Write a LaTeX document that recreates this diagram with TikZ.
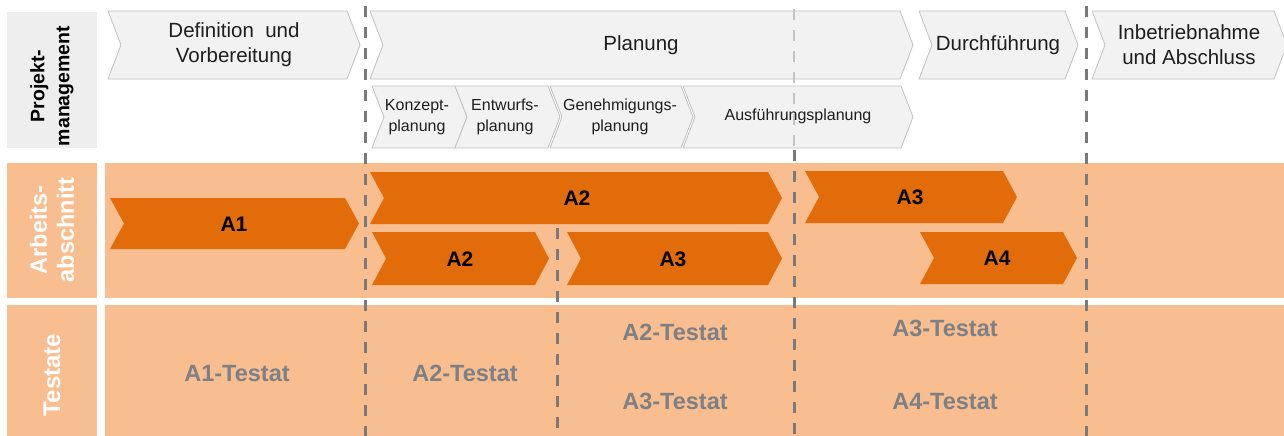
\documentclass[tikz,border=0pt]{standalone}
\usepackage{fontspec}
\setmainfont{Liberation Sans}
\definecolor{lorange}{RGB}{249,190,143}
\definecolor{dorange}{RGB}{227,108,10}
\definecolor{chevfill}{RGB}{242,242,242}
\definecolor{chevline}{RGB}{192,192,192}
\definecolor{dashgray}{RGB}{120,122,126}
\definecolor{lightdash}{RGB}{195,195,195}
\definecolor{tgray}{RGB}{125,128,133}
\definecolor{labelgray}{RGB}{238,238,238}
\definecolor{txtdark}{RGB}{30,30,30}
\newcommand{\mychev}[6]{%
  \path[#6] (#1,#3) -- (#2-#5,#3) -- (#2,{(#3+#4)/2}) -- (#2-#5,#4) -- (#1,#4) -- (#1+#5,{(#3+#4)/2}) -- cycle;}
\tikzset{
  greychev/.style={fill=chevfill, draw=chevline, line width=0.8pt},
  orangechev/.style={fill=dorange},
  toptext/.style={inner sep=0pt, align=center, text=txtdark, font=\fontsize{20.5}{25}\selectfont},
  subtext/.style={inner sep=0pt, align=center, text=txtdark, font=\fontsize{16}{21}\selectfont},
  atext/.style={inner sep=0pt, text=black, font=\fontsize{21}{25}\selectfont\bfseries},
  ttext/.style={inner sep=0pt, text=tgray, font=\fontsize{23.5}{27}\selectfont\bfseries},
  rowlabel/.style={inner sep=0pt, align=center, rotate=90},
  phaseline/.style={draw=dashgray, line width=3pt, dash pattern=on 11pt off 10pt},
  lightline/.style={draw=lightdash, line width=2.6pt, dash pattern=on 11pt off 10pt},
}
\begin{document}
\begin{tikzpicture}[x=1pt,y=-1pt]
\fill[white] (0,0) rectangle (1284,436);
\useasboundingbox (0,0) rectangle (1284,436);
\clip (0,0) rectangle (1284,436);
% row label boxes
\fill[labelgray] (7,12) rectangle (97,148);
\fill[lorange] (7,163) rectangle (97,298);
\fill[lorange] (7,305) rectangle (97,436);
% bands
\fill[lorange] (105,163) rectangle (1284,298);
\fill[lorange] (105,305) rectangle (1284,436);
% row labels
\node[rowlabel, text=black, font=\fontsize{19.5}{25}\selectfont\bfseries] (lpm) at (52,86) {Projekt-\\management};
\node[rowlabel, text=white, font=\fontsize{23.5}{27}\selectfont\bfseries] (lab) at (52,230) {Arbeits-\\abschnitt};
\node[rowlabel, text=white, font=\fontsize{24}{28}\selectfont\bfseries] (lts) at (52,375) {Testate};
% top phase chevrons
\mychev{108}{360}{11}{79}{13}{greychev}
\mychev{370}{913}{11}{79}{13}{greychev}
\mychev{919}{1078}{11}{79}{13}{greychev}
\mychev{1092}{1287}{11}{79}{13}{greychev}
% sub-phase chevrons
\mychev{372}{467}{86}{148}{12}{greychev}
\mychev{455}{560}{86}{148}{12}{greychev}
\mychev{550}{693}{86}{148}{12}{greychev}
\mychev{683}{913}{86}{148}{12}{greychev}
% light dashed line in project management area
\coordinate (l3t) at (794,9);
\coordinate (l3m) at (794,150);
\draw[lightline] (l3t) -- (l3m);
% phase texts
\node[toptext] (pdef) at (234,45) {Definition\ \ und\\Vorbereitung};
\node[toptext] (pplan) at (641,45) {Planung};
\node[toptext] (pdurch) at (998,45) {Durchführung};
\node[toptext] (pinb) at (1189,45) {Inbetriebnahme\\und Abschluss};
\node[subtext] (skon) at (417,117) {Konzept-\\planung};
\node[subtext] (sent) at (505,117) {Entwurfs-\\planung};
\node[subtext] (sgen) at (620,117) {Genehmigungs-\\planung};
\node[subtext] (saus) at (798,116) {Ausführungsplanung};
% orange work-section chevrons
\mychev{110}{359}{198}{249}{14}{orangechev}
\mychev{370}{782}{172}{224}{14}{orangechev}
\mychev{372}{549}{232}{285}{14}{orangechev}
\mychev{567}{782}{232}{285}{14}{orangechev}
\mychev{805}{1017}{171}{223}{14}{orangechev}
\mychev{920}{1077}{232}{284}{14}{orangechev}
\node[atext] (a1) at (234,224) {A1};
\node[atext] (a2a) at (577,198) {A2};
\node[atext] (a2b) at (460,259) {A2};
\node[atext] (a3a) at (673,259) {A3};
\node[atext] (a3b) at (910,197) {A3};
\node[atext] (a4) at (997,258) {A4};
% testate
\node[ttext] (t1) at (237,374) {A1-Testat};
\node[ttext] (t2a) at (465,373) {A2-Testat};
\node[ttext] (t2b) at (675,332) {A2-Testat};
\node[ttext] (t3a) at (675,401) {A3-Testat};
\node[ttext] (t3b) at (945,328) {A3-Testat};
\node[ttext] (t4) at (945,402) {A4-Testat};
% dashed phase lines
\coordinate (l1t) at (365,6);
\coordinate (l1b) at (365,440);
\coordinate (l2t) at (557,228);
\coordinate (l2b) at (557,440);
\coordinate (l3b) at (794,440);
\coordinate (l4t) at (1086,6);
\coordinate (l4b) at (1086,440);
\draw[phaseline] (l1t) -- (l1b);
\draw[phaseline] (l2t) -- (l2b);
\draw[phaseline] (l3m) -- (l3b);
\draw[phaseline] (l4t) -- (l4b);
\end{tikzpicture}
\end{document}
